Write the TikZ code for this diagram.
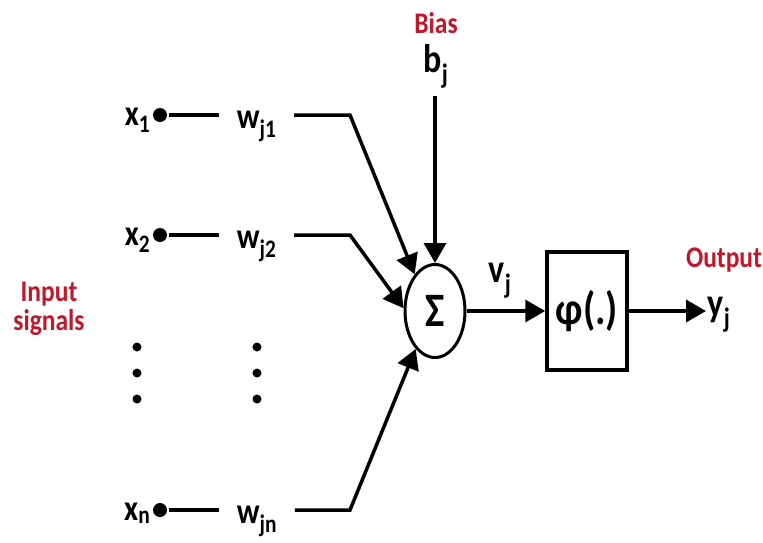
\documentclass[tikz,border=0pt]{standalone}
\usepackage{fontspec}
\setmainfont{Carlito}[FakeStretch=0.85]
\usepackage{tikz}
\usetikzlibrary{arrows.meta,shapes.geometric}
\definecolor{signalred}{HTML}{C0182A}

\begin{document}
\begin{tikzpicture}[
    x=1pt, y=-1pt,
    line width=3.5pt,
    sym/.style={inner sep=0pt, font=\bfseries\fontsize{36}{38}\selectfont},
    weight/.style={sym, inner xsep=16pt},
    bigsym/.style={inner sep=0pt, font=\bfseries\fontsize{40}{42}\selectfont},
    caption/.style={inner sep=0pt, align=center, text=signalred,
                    font=\bfseries\fontsize{30}{29}\selectfont},
    dot/.style={circle, fill, inner sep=0pt, minimum size=14pt},
    sig/.style={-{Triangle[length=20pt,width=22pt]}}
]
\useasboundingbox (0,0) rectangle (763,542);

% inputs and weights
\node[sym, anchor=base east] (x1) at (152,125) {x\textsubscript{1}};
\node[sym, anchor=base east] (x2) at (152,245) {x\textsubscript{2}};
\node[sym, anchor=base east] (xn) at (152,520) {x\textsubscript{n}};
\node[dot] (d1) at (160,115) {};
\node[dot] (d2) at (160,235) {};
\node[dot] (dn) at (160,510) {};
\node[weight, anchor=base west] (w1) at (219,128) {w\textsubscript{j1}};
\node[weight, anchor=base west] (w2) at (219,248) {w\textsubscript{j2}};
\node[weight, anchor=base west] (wn) at (219,523) {w\textsubscript{jn}};
\coordinate (c1) at (350,115);
\coordinate (c2) at (350,235);
\coordinate (cn) at (350,510);

% vertical dots
\fill (137,347) circle (4.5);
\fill (137,373) circle (4.5);
\fill (137,399) circle (4.5);
\fill (257,347) circle (4.5);
\fill (257,373) circle (4.5);
\fill (257,399) circle (4.5);

% summing junction and activation
\node[draw, ellipse, minimum width=60pt, minimum height=93pt, inner sep=0pt,
      line width=3pt, font=\bfseries\fontsize{48}{48}\selectfont] (sum) at (435,311) {Σ};
\node[draw, minimum width=80pt, minimum height=118pt, inner sep=0pt,
      line width=3.5pt, font=\bfseries\fontsize{46}{46}\selectfont] (phi) at (587,311) {φ(.)};

\node[bigsym, anchor=base, inner ysep=6pt] (bj) at (436,72) {b\textsubscript{j}};
\node[bigsym, anchor=base west] (vj) at (487,282) {v\textsubscript{j}};
\node[bigsym, anchor=base west] (yj) at (706,316) {y\textsubscript{j}};

% red captions
\node[caption, anchor=base] (bias) at (436,33) {Bias};
\node[caption, anchor=base] (output) at (724,267) {Output};
\node[caption] (input) at (49,309) {Input\\signals};

% connectors
\draw (d1) -- (d1 -| w1.west);
\draw (d2) -- (d2 -| w2.west);
\draw (dn) -- (dn -| wn.west);
\draw[sig] (w1.east |- d1) -- (c1) -- (sum.119);
\draw[sig] (w2.east |- d2) -- (c2) -- (sum.175);
\draw[sig] (wn.east |- dn) -- (cn) -- (sum.243);
\draw[sig] (sum.north |- bj.south) -- (sum.north);
\draw[sig] (sum.east) -- (phi.west);
\draw[sig] (phi.east) -- (phi.east -| yj.west);
\end{tikzpicture}
\end{document}
